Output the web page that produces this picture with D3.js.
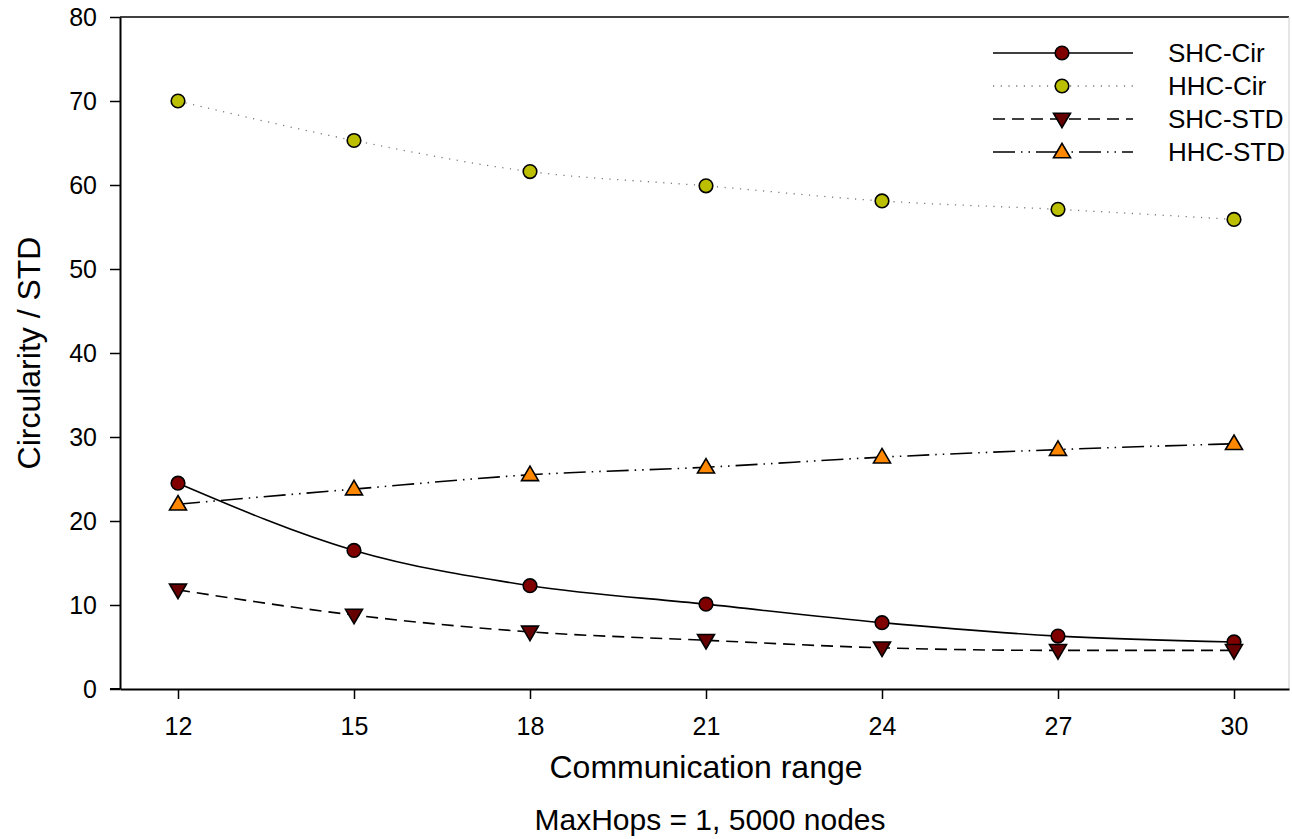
<!DOCTYPE html>
<html><head><meta charset="utf-8">
<script src="https://cdn.jsdelivr.net/npm/d3@7"></script>
<style>body{margin:0;background:#fff;}svg{display:block;font-family:"Liberation Sans",Arial,sans-serif;}</style>
</head><body><svg id="c" width="1292" height="839"></svg>
<script>
const ranges = [12, 15, 18, 21, 24, 27, 30];
const shcCir = [24.5, 16.5, 12.3, 10.1, 7.9, 6.3, 5.6];
const hhcCir = [70.0, 65.3, 61.6, 59.9, 58.1, 57.1, 55.9];
const shcStd = [11.8, 8.8, 6.8, 5.8, 4.9, 4.6, 4.6];
const hhcStd = [22.0, 23.8, 25.5, 26.4, 27.6, 28.5, 29.2];
const yTicks = [0, 10, 20, 30, 40, 50, 60, 70, 80];
const seriesNames = ["SHC-Cir", "HHC-Cir", "SHC-STD", "HHC-STD"];

const series = [
  {name: seriesNames[0], vals: shcCir, fill: "#800000", shape: "circle", stroke: "#000", dash: null, sw: 1.6},
  {name: seriesNames[1], vals: hhcCir, fill: "#bcbf00", shape: "circle", stroke: "#777", dash: "1.2,6.5", sw: 1.3},
  {name: seriesNames[2], vals: shcStd, fill: "#660000", shape: "down", stroke: "#000", dash: "12,7", sw: 1.6},
  {name: seriesNames[3], vals: hhcStd, fill: "#ff8800", shape: "up", stroke: "#000", dash: "22,6,1.5,6,1.5,6", sw: 1.6}
];

const svg = d3.select("#c");
const L = 120, R = 1289, T = 17, B = 689;
const pxPerUnit = (1234 - 178) / 18;
const x = d3.scaleLinear().domain([12 - (178 - L) / pxPerUnit, 12 + (R - 178) / pxPerUnit]).range([L, R]);
const y = d3.scaleLinear().domain([0, 80]).range([B, T]);

svg.append("line").attr("x1", L).attr("x2", R).attr("y1", T).attr("y2", T).attr("stroke", "#000").attr("stroke-width", 1.5);
svg.append("line").attr("x1", R).attr("x2", R).attr("y1", T).attr("y2", B).attr("stroke", "#ccc").attr("stroke-width", 1);

const yAxis = svg.append("g").attr("transform", `translate(${L},0)`)
  .call(d3.axisLeft(y).tickValues(yTicks).tickSize(10).tickSizeOuter(0).tickPadding(13));
const xAxis = svg.append("g").attr("transform", `translate(0,${B})`)
  .call(d3.axisBottom(x).tickValues(ranges).tickSize(10).tickSizeOuter(0).tickPadding(18));
[yAxis, xAxis].forEach(g => {
  g.attr("font-size", 25).attr("font-family", "Liberation Sans, Arial, sans-serif");
  g.select(".domain").attr("stroke", "#000").attr("stroke-width", 2);
  g.selectAll(".tick line").attr("stroke", "#000").attr("stroke-width", 1.5);
  g.selectAll(".tick text").attr("fill", "#000");
});
svg.append("line").attr("x1", L - 10).attr("x2", L).attr("y1", B).attr("y2", B).attr("stroke", "#000").attr("stroke-width", 2);

svg.append("text").attr("transform", `translate(40,${(T + B) / 2}) rotate(-90)`).attr("text-anchor", "middle")
  .attr("font-size", 32).text("Circularity / STD");
svg.append("text").attr("x", 706).attr("y", 778).attr("text-anchor", "middle").attr("font-size", 32).text("Communication range");
svg.append("text").attr("x", 710).attr("y", 830).attr("text-anchor", "middle").attr("font-size", 30).text("MaxHops = 1, 5000 nodes");

const line = d3.line().curve(d3.curveMonotoneX).x((d, i) => x(ranges[i])).y(d => y(d));

function marker(g, s, cx, cy) {
  if (s.shape === "circle") {
    g.append("circle").attr("cx", cx).attr("cy", cy).attr("r", 6.8).attr("fill", s.fill).attr("stroke", "#000").attr("stroke-width", 1.6);
  } else {
    const h = 14.5, w = 17;
    const pts = s.shape === "up"
      ? [[cx, cy - h * 0.6], [cx + w / 2, cy + h * 0.4], [cx - w / 2, cy + h * 0.4]]
      : [[cx, cy + h * 0.6], [cx + w / 2, cy - h * 0.4], [cx - w / 2, cy - h * 0.4]];
    g.append("polygon").attr("points", pts.map(p => p.join(",")).join(" ")).attr("fill", s.fill).attr("stroke", "#000").attr("stroke-width", 1.6);
  }
}

const plot = svg.append("g");
series.forEach(s => {
  plot.append("path").datum(s.vals).attr("d", line).attr("fill", "none").attr("stroke", s.stroke)
    .attr("stroke-width", s.sw).attr("stroke-dasharray", s.dash);
});
series.forEach(s => {
  const g = plot.append("g");
  s.vals.forEach((v, i) => marker(g, s, x(ranges[i]), y(v)));
});

const legY = [53, 86, 119, 152];
series.forEach((s, i) => {
  const g = svg.append("g");
  g.append("line").attr("x1", 993).attr("x2", 1133).attr("y1", legY[i]).attr("y2", legY[i]).attr("stroke", s.stroke)
    .attr("stroke-width", s.sw).attr("stroke-dasharray", s.dash);
  marker(g, s, 1062, legY[i]);
  g.append("text").attr("x", 1168).attr("y", legY[i] + 9).attr("font-size", 26).text(s.name);
});
</script></body></html>
